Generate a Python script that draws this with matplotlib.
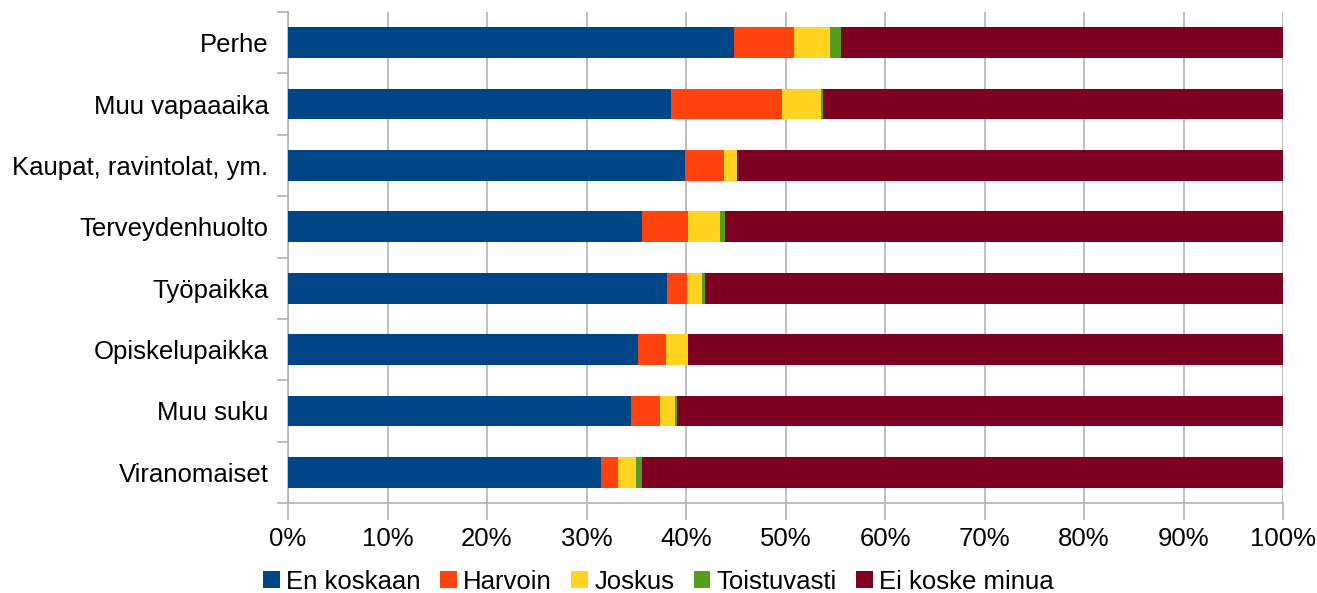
import numpy as np
import matplotlib.pyplot as plt
from matplotlib.ticker import FixedLocator, PercentFormatter

plt.rcParams['font.family'] = ['Liberation Sans', 'DejaVu Sans']

# categories top to bottom
categories = ["Perhe", "Muu vapaaaika", "Kaupat, ravintolat, ym.", "Terveydenhuolto",
              "Työpaikka", "Opiskelupaikka", "Muu suku", "Viranomaiset"]
series_names = ["En koskaan", "Harvoin", "Joskus", "Toistuvasti", "Ei koske minua"]
en_koskaan = [44.8, 38.5, 39.9, 35.6, 38.1, 35.2, 34.5, 31.5]
harvoin = [6.1, 11.1, 3.9, 4.6, 2.0, 2.8, 2.9, 1.7]
joskus = [3.6, 4.0, 1.3, 3.2, 1.5, 2.2, 1.5, 1.8]
toistuvasti = [1.1, 0.2, 0.0, 0.5, 0.3, 0.0, 0.2, 0.6]
ei_koske = [44.4, 46.2, 54.9, 56.1, 58.1, 59.8, 60.9, 64.4]
colors = ["#004586", "#ff420e", "#ffd320", "#579d1c", "#7e0021"]

data = [en_koskaan, harvoin, joskus, toistuvasti, ei_koske]

fig = plt.figure(figsize=(13.17, 5.93), dpi=100)
ax = fig.add_axes([288/1317, 1-503/593, (1283-288)/1317, (503-12)/593])

y = np.arange(len(categories))[::-1]
left = np.zeros(len(categories))
for name, vals, c in zip(series_names, data, colors):
    vals = np.array(vals)
    ax.barh(y, vals, left=left, height=0.5, color=c, label=name, zorder=3)
    left += vals

ax.set_xlim(0, 100)
ax.set_ylim(-0.5, len(categories) - 0.5)
ax.xaxis.set_major_locator(FixedLocator(np.arange(0, 101, 10)))
ax.xaxis.set_major_formatter(PercentFormatter(decimals=0))
ax.grid(axis='x', color='#b3b3b3', linewidth=1.2, zorder=0)
ax.set_yticks(y)
ax.set_yticklabels(categories)
ax.yaxis.set_minor_locator(FixedLocator(np.arange(-0.5, len(categories), 1)))
ax.tick_params(axis='y', which='major', length=0, pad=14, labelsize=18.5)
ax.tick_params(axis='y', which='minor', length=8, color='#b3b3b3', width=1.2)
ax.tick_params(axis='x', length=12, color='#b3b3b3', width=1.2, labelsize=18.5, pad=5)
for s in ['top', 'right']:
    ax.spines[s].set_visible(False)
for s in ['left', 'bottom']:
    ax.spines[s].set_color('#b3b3b3')
    ax.spines[s].set_linewidth(1.2)

fig.legend(loc='lower center', bbox_to_anchor=(0.5, -0.04), ncol=5, frameon=False,
           fontsize=18.5, handlelength=0.65, handleheight=0.65, handletextpad=0.25,
           columnspacing=0.75)

fig.savefig("out.png", dpi=100)
